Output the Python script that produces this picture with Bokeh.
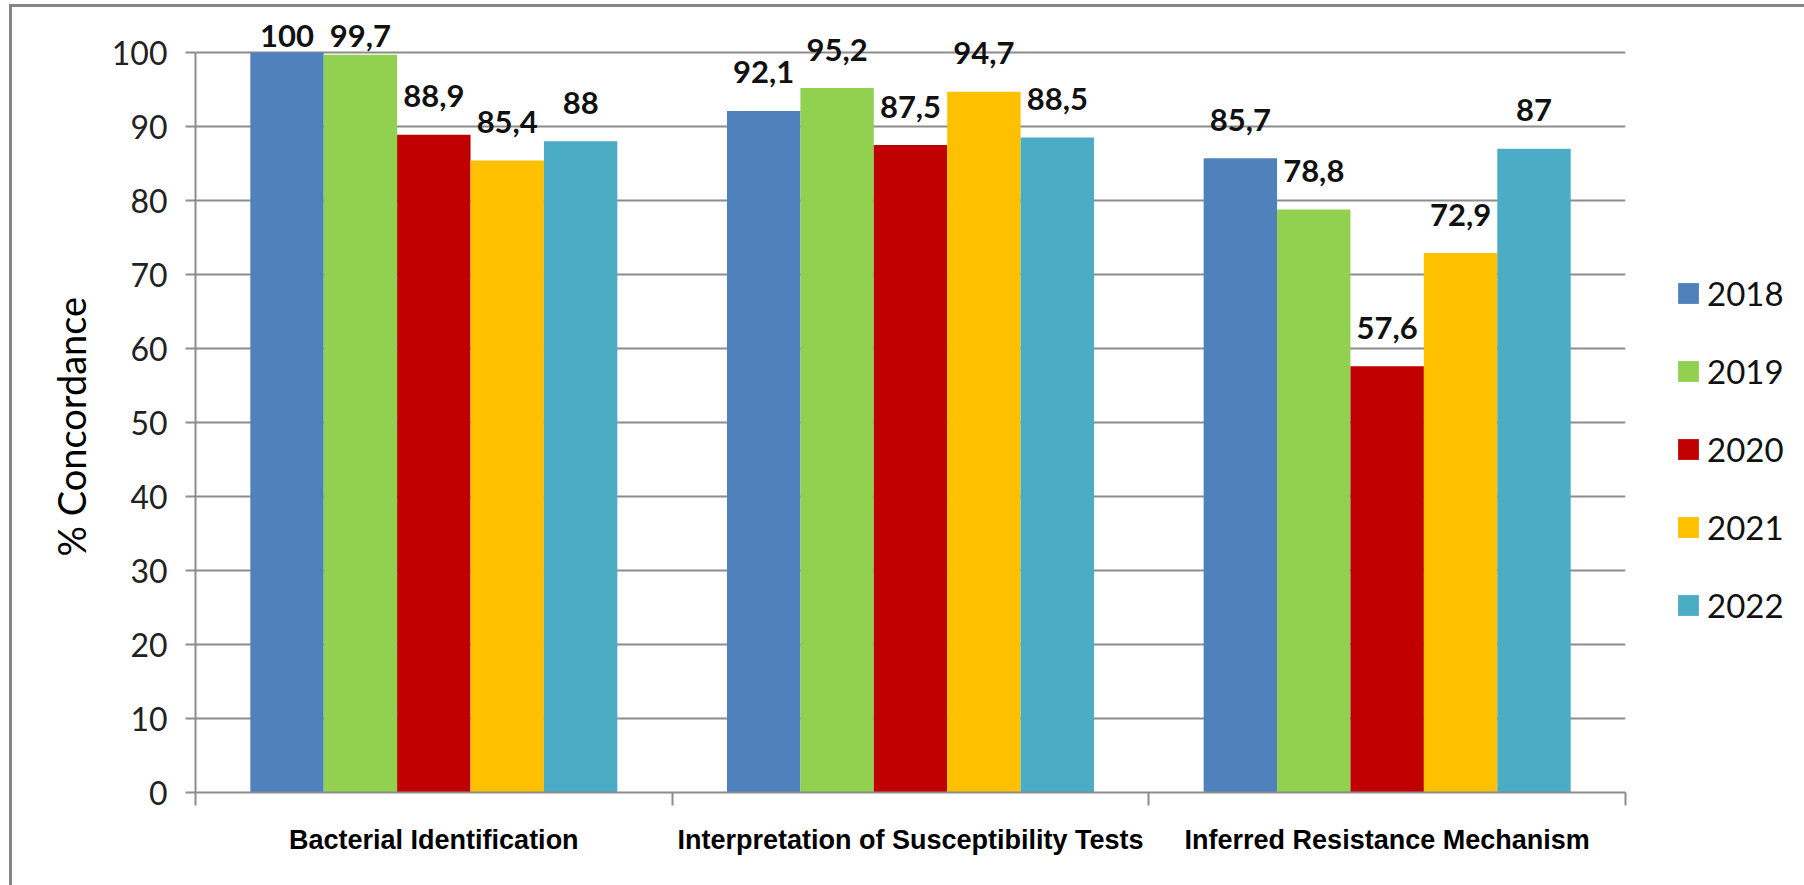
import numpy as np
from bokeh.plotting import figure
from bokeh.models import (ColumnDataSource, FixedTicker, Legend, LegendItem,
                          Range1d, Title)
from bokeh.core.properties import value
from bokeh.embed import file_html
from bokeh.resources import INLINE

# ---- data -------------------------------------------------------------
categories = [
    "Bacterial Identification",
    "Interpretation of Susceptibility Tests",
    "Inferred Resistance Mechanism",
]
years = ["2018", "2019", "2020", "2021", "2022"]
v2018 = [100, 92.1, 85.7]
v2019 = [99.7, 95.2, 78.8]
v2020 = [88.9, 87.5, 57.6]
v2021 = [85.4, 94.7, 72.9]
v2022 = [88, 88.5, 87]
series = [v2018, v2019, v2020, v2021, v2022]
colors = ["#4F81BD", "#92D050", "#C00000", "#FFC000", "#4BACC6"]
y_ticks = list(range(0, 101, 10))

# ---- styling ----------------------------------------------------------
GRID = "#8c8c8c"
NUM_FONT = "Lato"
CAT_FONT = "Liberation Sans"
BAR_W = 0.154          # width of one bar, in category units
PX_PER_UNIT = 7.4      # vertical pixels per percentage point

# the frame reaches a little above 100 so the value labels have room
p = figure(
    frame_width=1430, frame_height=778,
    min_border_left=183, min_border_right=179,
    min_border_top=7, min_border_bottom=93,
    x_range=Range1d(0, 3), y_range=Range1d(0, 778 / PX_PER_UNIT),
    output_backend="svg", toolbar_location=None,
    background_fill_color="white", border_fill_color="white",
    outline_line_color=None,
)
p.styles = {
    "margin-left": "9px", "margin-top": "4px",
    "border-left": "3px solid #858585", "border-top": "3px solid #858585",
}

centers = np.arange(len(categories)) + 0.5
items = []
for j, (yr, vals, col) in enumerate(zip(years, series, colors)):
    vals = np.asarray(vals, dtype=float)
    xs = centers + (j - 2) * BAR_W
    src = ColumnDataSource(dict(
        x=xs, top=vals,
        # value labels sit just above each bar, capped near the top edge
        ly=np.minimum(vals + 5.2, 102.2),
        txt=[f"{v:g}".replace(".", ",") for v in vals],
    ))
    r = p.vbar(x="x", top="top", bottom=0, width=BAR_W, source=src,
               fill_color=col, line_color=None)
    p.text(x="x", y="ly", text="txt", source=src,
           text_align="center", text_baseline="middle",
           text_font=value(NUM_FONT), text_font_style="bold",
           text_font_size="31px", text_color="#111111")
    items.append(LegendItem(label=yr, renderers=[r]))

# ---- axes & grid ------------------------------------------------------
yax = p.yaxis[0]
yax.ticker = FixedTicker(ticks=y_ticks, minor_ticks=[])
yax.bounds = (0, 100)
yax.axis_line_color = GRID
yax.axis_line_width = 2
yax.major_tick_line_color = GRID
yax.major_tick_line_width = 2
yax.major_tick_out = 10
yax.major_tick_in = 0
yax.minor_tick_out = 0
yax.major_label_standoff = 18
yax.major_label_text_font = NUM_FONT
yax.major_label_text_font_size = "32px"
yax.major_label_text_color = "#222222"

# y-axis title, measured from the bottom of the plot area
p.add_layout(Title(text="% Concordance", align="left", offset=236,
                   vertical_align="bottom", standoff=30,
                   text_font=NUM_FONT, text_font_style="normal",
                   text_font_size="38px", text_color="black"), "left")

xax = p.xaxis[0]
xax.ticker = FixedTicker(ticks=list(centers),
                         minor_ticks=list(range(len(categories) + 1)))
xax.major_label_overrides = {float(c): name for c, name in zip(centers, categories)}
xax.axis_line_color = GRID
xax.axis_line_width = 2
xax.major_tick_out = 0
xax.major_tick_in = 0
xax.minor_tick_out = 13
xax.minor_tick_in = 0
xax.minor_tick_line_color = GRID
xax.minor_tick_line_width = 2
xax.major_label_standoff = 19
xax.major_label_text_font = CAT_FONT
xax.major_label_text_font_style = "bold"
xax.major_label_text_font_size = "27px"
xax.major_label_text_color = "black"

p.xgrid.visible = False
p.ygrid.ticker = FixedTicker(ticks=y_ticks)
p.ygrid.grid_line_color = GRID
p.ygrid.grid_line_width = 2

legend = Legend(items=items, location=(50, 167), orientation="vertical",
                glyph_width=26, glyph_height=26, label_standoff=6,
                spacing=38, padding=0, margin=0,
                label_text_font=NUM_FONT, label_text_font_size="33px",
                label_text_color="#111111",
                border_line_color=None, background_fill_alpha=0)
p.add_layout(legend, "right")

open("out.html", "w").write(file_html(p, INLINE))
